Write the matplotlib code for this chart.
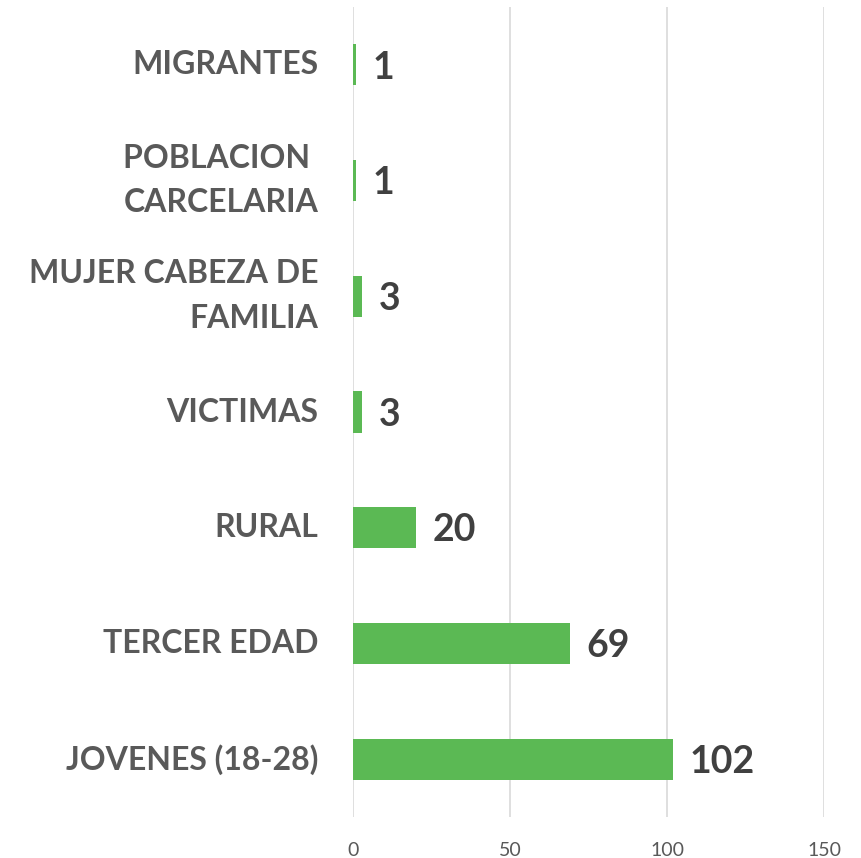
import matplotlib
matplotlib.use("Agg")
import matplotlib.pyplot as plt

categories = ["JOVENES (18-28)", "TERCER EDAD", "RURAL", "VICTIMAS",
              "MUJER CABEZA DE\nFAMILIA", "POBLACION \nCARCELARIA", "MIGRANTES"]
values = [102, 69, 20, 3, 3, 1, 1]
xticks = [0, 50, 100, 150]

plt.rcParams['font.family'] = ['Lato', 'DejaVu Sans']

fig = plt.figure(figsize=(8.61, 8.58), dpi=100)
ax = fig.add_axes([353/861, 1 - 817/858, (824-353)/861, (817-7)/858])

y = list(range(len(categories)))
ax.barh(y, values, height=0.355, color="#5BB954", zorder=3)
ax.set_xlim(0, 150)
ax.set_ylim(-0.5, len(categories) - 0.5)
ax.set_xticks(xticks)
ax.set_xticklabels([str(t) for t in xticks], fontsize=14, color="#595959")
ax.set_yticks(y)
ax.set_yticklabels(categories, fontsize=23, fontweight="bold", color="#595959",
                   linespacing=1.65, va="center")
ax.tick_params(axis="both", length=0)
ax.tick_params(axis="x", pad=18)
ax.tick_params(axis="y", pad=25)
ax.grid(axis="x", color="#D9D9D9", linewidth=1.2, zorder=0)
for s in ax.spines.values():
    s.set_visible(False)

for yi, v in zip(y, values):
    ax.annotate(str(v), (v, yi), xytext=(12, -2), textcoords="offset points",
                ha="left", va="center", fontsize=27, fontweight="bold",
                color="#404040")

fig.savefig("out.png", dpi=100)
